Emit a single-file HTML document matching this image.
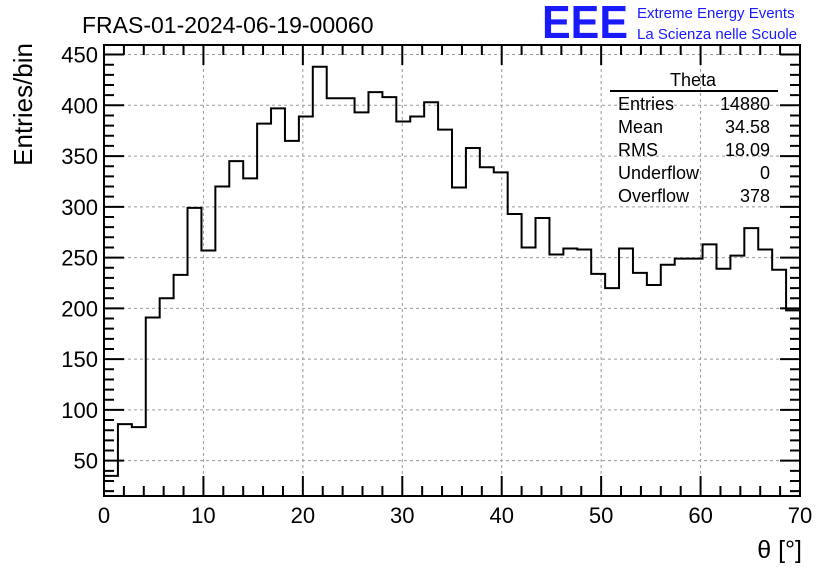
<!DOCTYPE html>
<html><head><meta charset="utf-8"><style>
body{margin:0;background:#fff}
svg{display:block;font-family:"Liberation Sans",sans-serif}
</style></head><body>
<svg id="c" width="836" height="572" viewBox="0 0 836 572">
<rect width="836" height="572" fill="#fff"/>
<text x="82" y="33" font-size="23">FRAS-01-2024-06-19-00060</text>
<text x="542" y="38" font-size="46" fill="#1a1aff" font-weight="bold" textLength="86" lengthAdjust="spacingAndGlyphs">EEE</text>
<text x="637" y="18" font-size="15" fill="#1a1aff">Extreme Energy Events</text>
<text x="637" y="39" font-size="15" fill="#1a1aff">La Scienza nelle Scuole</text>
<g id="grid"></g>
<g id="ticks"></g>
<path id="hist" fill="none" stroke="#000" stroke-width="2"/>
<rect x="104" y="45" width="696" height="451" fill="none" stroke="#000" stroke-width="2"/>
<g>
<text x="693" y="86" font-size="18" text-anchor="middle">Theta</text>
<line x1="610" y1="91" x2="778" y2="91" stroke="#000" stroke-width="2"/>
<g font-size="18">
<text x="618" y="110">Entries</text><text x="770" y="110" text-anchor="end">14880</text>
<text x="618" y="133">Mean</text><text x="770" y="133" text-anchor="end">34.58</text>
<text x="618" y="156">RMS</text><text x="770" y="156" text-anchor="end">18.09</text>
<text x="618" y="179">Underflow</text><text x="770" y="179" text-anchor="end">0</text>
<text x="618" y="202">Overflow</text><text x="770" y="202" text-anchor="end">378</text>
</g></g>
<text x="802" y="558" font-size="25" text-anchor="end">θ [°]</text>
<text transform="translate(32,43) rotate(-90)" font-size="26" text-anchor="end">Entries/bin</text>
</svg>
<script>
const counts=[35,86,83,191,210,233,299,257,320,345,328,382,397,365,389,438,407,407,393,413,408,384,389,403,376,319,358,339,334,293,260,289,253,259,258,234,220,259,235,223,243,249,249,263,239,252,279,258,238,198];
const xTicks=[0,10,20,30,40,50,60,70];
const yTicks=[50,100,150,200,250,300,350,400,450];
const xMin=0,xMax=70,yMin=15.2,yMax=459.4;
const L=104,R=800,T=45,B=496;
const sx=v=>L+(v-xMin)/(xMax-xMin)*(R-L);
const sy=v=>B-(v-yMin)/(yMax-yMin)*(B-T);
const NS="http://www.w3.org/2000/svg";
function mk(tag,a,parent){const e=document.createElementNS(NS,tag);for(const k in a)e.setAttribute(k,a[k]);parent.appendChild(e);return e;}
const grid=document.getElementById('grid'),ticks=document.getElementById('ticks'),svg=document.getElementById('c');
xTicks.forEach(t=>{
 const g=mk('line',{x1:sx(t),x2:sx(t),y1:T,y2:B,stroke:'#999','stroke-dasharray':'3,3','stroke-width':1},grid);
 
 
 const lb=mk('text',{x:sx(t),y:523,'font-size':22,'text-anchor':'middle'},svg);
 lb.textContent=t;
 
 
});
yTicks.forEach(t=>{
 const g=mk('line',{x1:L,x2:R,y1:sy(t),y2:sy(t),stroke:'#999','stroke-dasharray':'3,3','stroke-width':1},grid);
 
 
 const lb=mk('text',{x:98,y:sy(t)+8,'font-size':22,'text-anchor':'end'},svg);
 lb.textContent=t;
 
 
});
let d='';
for(let v=20;v<=450;v+=10){const y=sy(v),len=v%50===0?20:10;d+=`M${L},${y}h${len}M${R},${y}h${-len}`;}
for(let v=0;v<=70;v+=2){const x=sx(v),len=v%10===0?20:10;d+=`M${x},${B}v${-len}M${x},${T}v${len}`;}
const tk=mk('path',{d:d,stroke:'#000','stroke-width':2,fill:'none'},ticks);


const w=(xMax-xMin)/counts.length;
let p=`M${sx(0)},${sy(counts[0])}`;
counts.forEach((c,i)=>{p+=`L${sx(i*w)},${sy(c)}L${sx((i+1)*w)},${sy(c)}`;});
document.getElementById('hist').setAttribute('d',p);
</script>
</body></html>
